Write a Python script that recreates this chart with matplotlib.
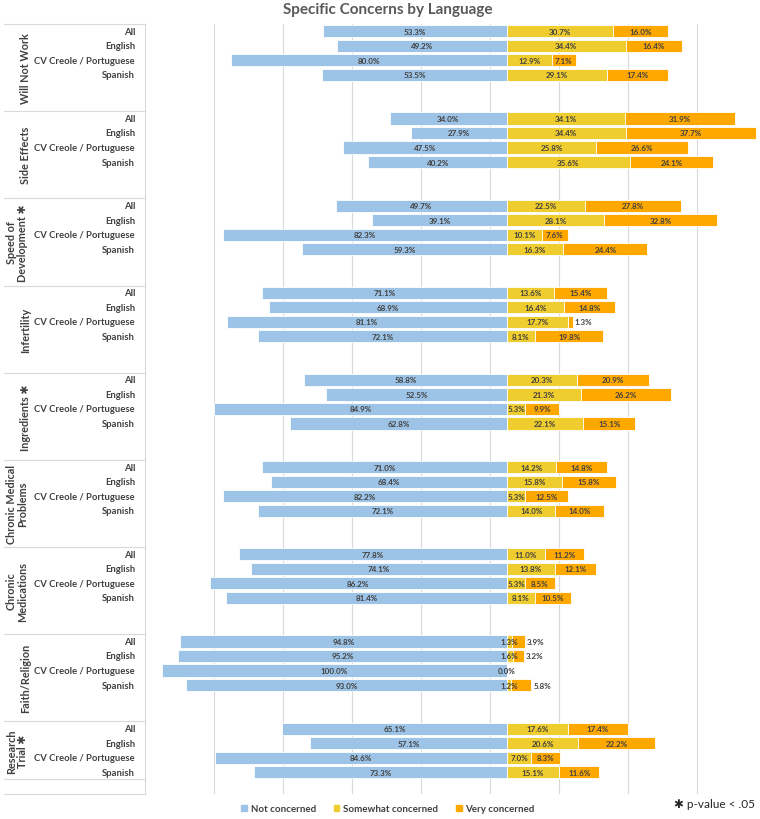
import numpy as np
import matplotlib
matplotlib.use("Agg")
import matplotlib.pyplot as plt
from matplotlib.patches import Patch

plt.rcParams['font.family'] = ['Lato', 'DejaVu Sans']

# Data
groups = ['Will Not Work', 'Side Effects', 'Speed of\nDevelopment ✱', 'Infertility',
          'Ingredients ✱', 'Chronic Medical\nProblems', 'Chronic\nMedications',
          'Faith/Religion', 'Research\nTrial ✱']
languages = ['All', 'English', 'CV Creole / Portuguese', 'Spanish']

not_concerned = [
    [53.3, 49.2, 80.0, 53.5],
    [34.0, 27.9, 47.5, 40.2],
    [49.7, 39.1, 82.3, 59.3],
    [71.1, 68.9, 81.1, 72.1],
    [58.8, 52.5, 84.9, 62.8],
    [71.0, 68.4, 82.2, 72.1],
    [77.8, 74.1, 86.2, 81.4],
    [94.8, 95.2, 100.0, 93.0],
    [65.1, 57.1, 84.6, 73.3],
]
somewhat = [
    [30.7, 34.4, 12.9, 29.1],
    [34.1, 34.4, 25.8, 35.6],
    [22.5, 28.1, 10.1, 16.3],
    [13.6, 16.4, 17.7, 8.1],
    [20.3, 21.3, 5.3, 22.1],
    [14.2, 15.8, 5.3, 14.0],
    [11.0, 13.8, 5.3, 8.1],
    [1.3, 1.6, 0.0, 1.2],
    [17.6, 20.6, 7.0, 15.1],
]
very = [
    [16.0, 16.4, 7.1, 17.4],
    [31.9, 37.7, 26.6, 24.1],
    [27.8, 32.8, 7.6, 24.4],
    [15.4, 14.8, 1.3, 19.8],
    [20.9, 26.2, 9.9, 15.1],
    [14.8, 15.8, 12.5, 14.0],
    [11.2, 12.1, 8.5, 10.5],
    [3.9, 3.2, 0.0, 5.8],
    [17.4, 22.2, 8.3, 11.6],
]

c_not = '#9DC3E6'
c_some = '#F0CD2E'
c_very = '#FFA800'
txt = '#404040'
grid_c = '#D9D9D9'

W, H = 760, 820
fig = plt.figure(figsize=(W / 100, H / 100), dpi=100)

top_px, bot_px = 25, 795
n_slots = 53
ax = fig.add_axes([145 / W, 1 - bot_px / H, 615 / W, (bot_px - top_px) / H])
lab = fig.add_axes([4 / W, 1 - bot_px / H, 141 / W, (bot_px - top_px) / H])

ax.set_xlim(-104.9, 73.3)
ax.set_ylim(n_slots, 0)
ax.set_xticks(np.arange(-84.9, 60, 20))
ax.set_yticks([])
ax.tick_params(length=0, labelbottom=False)
ax.grid(axis='x', color=grid_c, lw=0.8)
ax.set_axisbelow(True)
for s in ax.spines.values():
    s.set_visible(False)

lab.set_xlim(0, 1)
lab.set_ylim(n_slots, 0)
lab.axis('off')

bh = 0.84
for g in range(len(groups)):
    ys = np.arange(4) + 6 * g + 0.5
    nc = np.array(not_concerned[g])
    sw = np.array(somewhat[g])
    vc = np.array(very[g])
    ax.barh(ys, -nc, height=bh, color=c_not, edgecolor='white', lw=0.6)
    ax.barh(ys, sw, height=bh, color=c_some, edgecolor='white', lw=0.6)
    ax.barh(ys, vc, left=sw, height=bh, color=c_very, edgecolor='white', lw=0.6)
    for y, a, b, c in zip(ys, nc, sw, vc):
        kw = dict(fontsize=5.8, fontweight='bold', color=txt, va='center')
        ax.text(-a / 2, y, f'{a:.1f}%', ha='center', **kw)
        ax.text(b / 2, y, f'{b:.1f}%', ha='center', **kw)
        if c > 0:
            if c < 6:
                ax.text(b + c + 0.6, y, f'{c:.1f}%', ha='left', **kw)
            else:
                ax.text(b + c / 2, y, f'{c:.1f}%', ha='center', **kw)
    for y, l in zip(ys, languages):
        lab.text(0.929, y, l, ha='right', va='center', fontsize=6.8,
                 fontweight='bold', color=txt)
    g_end = 6 * g + 6 if g < len(groups) - 1 else 6 * g + 4
    gx = 0.09 if '\n' in groups[g] else 0.15
    lab.text(gx, (6 * g + g_end) / 2, groups[g], rotation=90, ha='center',
             va='center', fontsize=7.8, fontweight='bold', color=txt,
             multialignment='center', linespacing=1.0)

# left table lines
for y in [6 * g for g in range(9)] + [52, 53]:
    lab.plot([0, 1], [y, y], color=grid_c, lw=0.8, clip_on=False)
lab.plot([1, 1], [0, 53], color=grid_c, lw=0.8, clip_on=False)

fig.text(388 / W, 1 - 10 / H, 'Specific Concerns by Language', ha='center', va='center',
         fontsize=11, fontweight='bold', color='#595959')

handles = [Patch(color=c_not, label='Not concerned'),
           Patch(color=c_some, label='Somewhat concerned'),
           Patch(color=c_very, label='Very concerned')]
leg = fig.legend(handles=handles, loc='center', bbox_to_anchor=(388 / W, 1 - 810 / H),
                 ncol=3, frameon=False, handlelength=0.6, handleheight=0.6,
                 handletextpad=0.4, columnspacing=1.8,
                 prop={'size': 7, 'weight': 'bold'})
for t in leg.get_texts():
    t.set_color(txt)

fig.text(755 / W, 1 - 805 / H, '✱ p-value < .05', ha='right', va='center',
         fontsize=8.5, color='#262626')

fig.savefig('out.png', dpi=100, facecolor='white')
